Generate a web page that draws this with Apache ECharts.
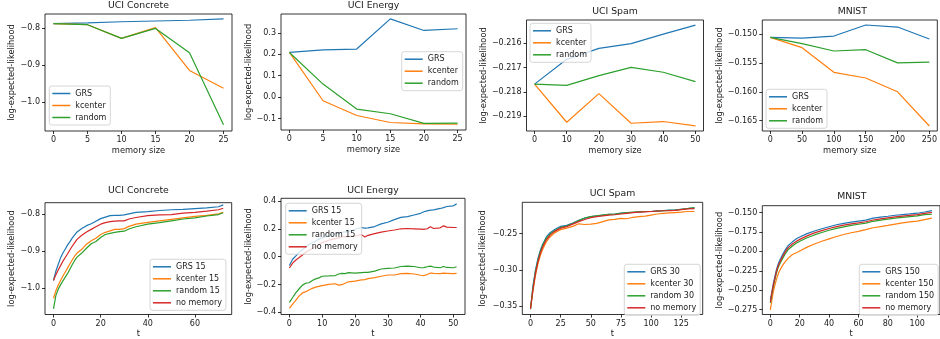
<!DOCTYPE html>
<html><head><meta charset="utf-8">
<script src="https://cdn.jsdelivr.net/npm/echarts@6/dist/echarts.min.js"></script>
<style>html,body{margin:0;padding:0;background:#fff}#c{width:940px;height:339px}</style>
</head><body><div id="c"></div>
<script>
// ---------- DATA ----------
const titles = ['UCI Concrete','UCI Energy','UCI Spam','MNIST','UCI Concrete','UCI Energy','UCI Spam','MNIST'];
const topNames = ['GRS','kcenter','random'];
const botNames5 = ['GRS 15','kcenter 15','random 15','no memory'];
const botNames6 = ['GRS 15','kcenter 15','random 15','no memory'];
const botNames7 = ['GRS 30','kcenter 30','random 30','no memory'];
const botNames8 = ['GRS 150','kcenter 150','random 150','no memory'];

// Top row: memory size sweeps
const memConcrete = [0,5,10,15,20,25];
const concreteGRS     = [-0.788,-0.786,-0.783,-0.781,-0.779,-0.775];
const concreteKcenter = [-0.788,-0.791,-0.828,-0.799,-0.915,-0.963];
const concreteRandom  = [-0.788,-0.791,-0.828,-0.801,-0.867,-1.062];

const memEnergy = [0,5,10,15,20,25];
const energyGRS     = [0.209,0.221,0.225,0.366,0.312,0.320];
const energyKcenter = [0.209,-0.017,-0.086,-0.119,-0.125,-0.127];
const energyRandom  = [0.209,0.061,-0.056,-0.078,-0.123,-0.122];

const memSpam = [0,10,20,30,40,50];
const spamGRS     = [-0.21768,-0.21666,-0.21621,-0.21601,-0.21562,-0.21525];
const spamKcenter = [-0.21768,-0.21925,-0.21807,-0.21929,-0.21922,-0.21940];
const spamRandom  = [-0.21768,-0.21773,-0.21733,-0.21699,-0.21719,-0.21758];

const memMnist = [0,50,100,150,200,250];
const mnistGRS     = [-0.15058,-0.15070,-0.15035,-0.14844,-0.14879,-0.15087];
const mnistKcenter = [-0.15058,-0.15236,-0.15663,-0.15761,-0.16000,-0.16592];
const mnistRandom  = [-0.15058,-0.15167,-0.15294,-0.15271,-0.15500,-0.15485];

// Bottom row: over time t
const tConcrete = [0,1,2,3,4,5,6,7,8,9,10,12,14,16,18,20,22,24,26,28,30,32,35,40,45,50,55,60,65,70,72];
const cGRS  = [-0.980,-0.955,-0.937,-0.919,-0.906,-0.895,-0.884,-0.875,-0.865,-0.857,-0.849,-0.840,-0.832,-0.827,-0.820,-0.813,-0.809,-0.805,-0.804,-0.804,-0.803,-0.800,-0.796,-0.794,-0.791,-0.789,-0.788,-0.786,-0.784,-0.781,-0.776];
const cKc   = [-1.028,-1.008,-0.993,-0.980,-0.968,-0.957,-0.946,-0.935,-0.924,-0.914,-0.906,-0.896,-0.882,-0.873,-0.866,-0.856,-0.850,-0.846,-0.842,-0.842,-0.840,-0.834,-0.828,-0.823,-0.819,-0.815,-0.811,-0.807,-0.804,-0.800,-0.796];
const cRnd  = [-1.057,-1.021,-1.004,-0.992,-0.981,-0.971,-0.961,-0.949,-0.937,-0.926,-0.917,-0.906,-0.893,-0.881,-0.875,-0.864,-0.856,-0.853,-0.850,-0.848,-0.847,-0.841,-0.835,-0.828,-0.824,-0.819,-0.814,-0.811,-0.806,-0.802,-0.797];
const cNo   = [-0.980,-0.965,-0.952,-0.940,-0.928,-0.918,-0.908,-0.897,-0.887,-0.878,-0.869,-0.858,-0.849,-0.842,-0.835,-0.828,-0.824,-0.821,-0.820,-0.819,-0.819,-0.814,-0.810,-0.805,-0.803,-0.802,-0.798,-0.796,-0.793,-0.789,-0.785];

const tEnergy = [0,1,2,3,4,5,6,7,8,9,10,12,14,15,16,17,18,20,22,23,24,26,28,30,32,34,36,38,40,41,42,43,44,46,47,48,50,51];
const eGRS = [-0.064,-0.019,0.005,0.031,0.049,0.071,0.087,0.101,0.112,0.124,0.135,0.150,0.163,0.168,0.175,0.178,0.180,0.195,0.209,0.205,0.207,0.216,0.235,0.247,0.266,0.282,0.287,0.299,0.311,0.322,0.329,0.334,0.336,0.346,0.352,0.360,0.365,0.379];
const eKc  = [-0.372,-0.341,-0.313,-0.282,-0.261,-0.252,-0.240,-0.228,-0.219,-0.214,-0.209,-0.200,-0.195,-0.205,-0.202,-0.191,-0.181,-0.176,-0.167,-0.165,-0.158,-0.151,-0.141,-0.132,-0.132,-0.122,-0.120,-0.125,-0.134,-0.136,-0.129,-0.118,-0.120,-0.122,-0.119,-0.120,-0.122,-0.120];
const eRnd = [-0.329,-0.294,-0.259,-0.231,-0.205,-0.191,-0.188,-0.172,-0.160,-0.153,-0.141,-0.139,-0.136,-0.125,-0.120,-0.122,-0.115,-0.118,-0.115,-0.114,-0.113,-0.104,-0.089,-0.085,-0.082,-0.071,-0.068,-0.071,-0.080,-0.079,-0.073,-0.068,-0.075,-0.080,-0.071,-0.078,-0.080,-0.073];
const eNo  = [-0.082,-0.047,-0.024,-0.007,0.012,0.031,0.045,0.058,0.071,0.085,0.099,0.118,0.129,0.135,0.141,0.143,0.144,0.148,0.158,0.141,0.153,0.165,0.176,0.184,0.191,0.200,0.202,0.200,0.198,0.196,0.200,0.214,0.202,0.207,0.221,0.212,0.209,0.209];

const tSpam = [0,2,4,6,8,10,13,16,20,25,30,35,40,45,50,55,60,65,70,75,80,85,90,95,100,105,110,115,120,125,130,136];
const sGRS = [-0.3536,-0.3227,-0.3014,-0.2855,-0.2741,-0.2650,-0.2550,-0.2491,-0.2445,-0.2400,-0.2386,-0.2355,-0.2318,-0.2286,-0.2264,-0.2255,-0.2245,-0.2236,-0.2232,-0.2218,-0.2209,-0.2209,-0.2200,-0.2195,-0.2195,-0.2186,-0.2182,-0.2177,-0.2173,-0.2164,-0.2155,-0.2145];
const sKc  = [-0.3530,-0.3300,-0.3090,-0.2930,-0.2810,-0.2720,-0.2620,-0.2550,-0.2490,-0.2445,-0.2425,-0.2400,-0.2365,-0.2375,-0.2370,-0.2360,-0.2335,-0.2310,-0.2305,-0.2290,-0.2295,-0.2275,-0.2265,-0.2260,-0.2245,-0.2230,-0.2220,-0.2215,-0.2210,-0.2205,-0.2195,-0.2195];
const sRnd = [-0.3545,-0.3260,-0.3040,-0.2880,-0.2760,-0.2670,-0.2570,-0.2510,-0.2460,-0.2415,-0.2395,-0.2360,-0.2320,-0.2285,-0.2265,-0.2255,-0.2245,-0.2235,-0.2230,-0.2220,-0.2210,-0.2205,-0.2200,-0.2195,-0.2195,-0.2190,-0.2185,-0.2180,-0.2175,-0.2165,-0.2155,-0.2140];
const sNo  = [-0.3540,-0.3280,-0.3060,-0.2900,-0.2780,-0.2690,-0.2590,-0.2525,-0.2470,-0.2425,-0.2405,-0.2370,-0.2335,-0.2305,-0.2280,-0.2265,-0.2255,-0.2245,-0.2240,-0.2230,-0.2220,-0.2210,-0.2205,-0.2200,-0.2195,-0.2190,-0.2185,-0.2183,-0.2180,-0.2170,-0.2160,-0.2155];

const tMnist = [0,1,2,3,4,5,6,8,10,12,15,18,20,25,30,35,40,45,50,55,60,65,70,75,80,85,90,95,100,105,110];
const mGRS = [-0.2627,-0.2521,-0.2415,-0.2330,-0.2246,-0.2182,-0.2131,-0.2055,-0.1983,-0.1928,-0.1877,-0.1835,-0.1814,-0.1771,-0.1737,-0.1708,-0.1682,-0.1657,-0.1640,-0.1623,-0.1610,-0.1597,-0.1572,-0.1559,-0.1547,-0.1534,-0.1525,-0.1517,-0.1508,-0.1492,-0.1475];
const mKc  = [-0.2754,-0.2630,-0.2520,-0.2440,-0.2370,-0.2310,-0.2260,-0.2190,-0.2135,-0.2090,-0.2040,-0.2015,-0.1995,-0.1945,-0.1905,-0.1870,-0.1838,-0.1808,-0.1782,-0.1760,-0.1742,-0.1720,-0.1695,-0.1680,-0.1665,-0.1648,-0.1632,-0.1620,-0.1610,-0.1590,-0.1572];
const mRnd = [-0.2665,-0.2555,-0.2455,-0.2370,-0.2290,-0.2225,-0.2175,-0.2105,-0.2035,-0.1980,-0.1930,-0.1890,-0.1870,-0.1825,-0.1788,-0.1757,-0.1728,-0.1703,-0.1683,-0.1665,-0.1650,-0.1635,-0.1612,-0.1598,-0.1585,-0.1572,-0.1562,-0.1552,-0.1542,-0.1527,-0.1521];
const mNo  = [-0.2650,-0.2540,-0.2435,-0.2350,-0.2270,-0.2205,-0.2155,-0.2080,-0.2010,-0.1955,-0.1905,-0.1865,-0.1845,-0.1800,-0.1762,-0.1732,-0.1705,-0.1680,-0.1662,-0.1645,-0.1632,-0.1618,-0.1595,-0.1580,-0.1567,-0.1555,-0.1545,-0.1535,-0.1525,-0.1510,-0.1497];

// Tick labels
const xTickLabels = [
  ['0','5','10','15','20','25'],
  ['0','5','10','15','20','25'],
  ['0','10','20','30','40','50'],
  ['0','50','100','150','200','250'],
  ['0','20','40','60'],
  ['0','10','20','30','40','50'],
  ['0','25','50','75','100','125'],
  ['0','20','40','60','80','100']
];
const yTickLabels = [
  ['−1.0','−0.9','−0.8'],
  ['−0.1','0.0','0.1','0.2','0.3'],
  ['−0.219','−0.218','−0.217','−0.216'],
  ['−0.165','−0.160','−0.155','−0.150'],
  ['−1.0','−0.9','−0.8'],
  ['−0.4','−0.2','0.0','0.2','0.4'],
  ['−0.35','−0.30','−0.25'],
  ['−0.275','−0.250','−0.225','−0.200','−0.175','−0.150']
];
const xNames = ['memory size','memory size','memory size','memory size','t','t','t','t'];
const yName = 'log-expected-likelihood';

// ---------- LAYOUT ----------
const FONT = 'DejaVu Sans';
const TXT = '#1a1a1a';
const colors = {GRS:'#1f77b4', kcenter:'#ff7f0e', random:'#2ca02c', no:'#d62728'};
const grids = [
  {left:45,   top:14,    width:187,   height:117},
  {left:281,  top:14,    width:185,   height:116},
  {left:526.5,top:20,    width:177,   height:111},
  {left:762.3,top:20,    width:180,   height:111},
  {left:45,   top:202.7, width:186.7, height:113},
  {left:281,  top:198.3, width:184,   height:118.4},
  {left:522.3,top:202.3, width:180.4, height:113.7},
  {left:762.3,top:205.7, width:179,   height:110.3}
];
const xr = [[-1.25,26.25],[-1.25,26.25],[-2.5,52.5],[-12.5,262.5],[-3.6,75.6],[-2.55,53.55],[-6.8,142.8],[-5.5,115.5]];
const yr = [[-1.079,-0.762],[-0.154,0.389],[-0.21961,-0.21504],[-0.16679,-0.14757],[-1.072,-0.770],[-0.416,0.419],[-0.3618,-0.2068],[-0.2814,-0.1411]];
const yNameGap = [29,28.5,39,37.5,29,28.5,35,37.5];
const titleTop = [1,1,7.5,7,186,186.3,189.3,192.5];
const legendPos = [[49.3,86],[401.7,51.7],[530,23.3],[766,89.3],[150,259.3],[285.7,203.3],[624.3,264.3],[859.3,264.3]];

const num = s => parseFloat(s.replace('−','-'));
const zip = (xs, ys) => xs.map((x,i)=>[x, ys[i]]);

const panels = [
  {names: topNames, sets: [[memConcrete,concreteGRS],[memConcrete,concreteKcenter],[memConcrete,concreteRandom]], cols:['GRS','kcenter','random']},
  {names: topNames, sets: [[memEnergy,energyGRS],[memEnergy,energyKcenter],[memEnergy,energyRandom]], cols:['GRS','kcenter','random']},
  {names: topNames, sets: [[memSpam,spamGRS],[memSpam,spamKcenter],[memSpam,spamRandom]], cols:['GRS','kcenter','random']},
  {names: topNames, sets: [[memMnist,mnistGRS],[memMnist,mnistKcenter],[memMnist,mnistRandom]], cols:['GRS','kcenter','random']},
  {names: botNames5, sets: [[tConcrete,cGRS],[tConcrete,cKc],[tConcrete,cRnd],[tConcrete,cNo]], cols:['GRS','kcenter','random','no']},
  {names: botNames6, sets: [[tEnergy,eGRS],[tEnergy,eKc],[tEnergy,eRnd],[tEnergy,eNo]], cols:['GRS','kcenter','random','no']},
  {names: botNames7, sets: [[tSpam,sGRS],[tSpam,sKc],[tSpam,sRnd],[tSpam,sNo]], cols:['GRS','kcenter','random','no']},
  {names: botNames8, sets: [[tMnist,mGRS],[tMnist,mKc],[tMnist,mRnd],[tMnist,mNo]], cols:['GRS','kcenter','random','no']}
];

const option = {animation:false, grid:[], xAxis:[], yAxis:[], series:[], title:[], legend:[]};
panels.forEach((p, i) => {
  const g = grids[i];
  option.grid.push(Object.assign({show:true, borderColor:'#000', borderWidth:0.8, backgroundColor:'transparent', containLabel:false}, g));
  const xv = xTickLabels[i].map(num), yv = yTickLabels[i].map(num);
  const xl = xTickLabels[i], yl = yTickLabels[i];
  option.xAxis.push({
    type:'value', gridIndex:i, min:xr[i][0], max:xr[i][1], position:'bottom',
    axisLine:{show:false, onZero:false}, splitLine:{show:false},
    axisTick:{show:true, inside:false, length:3, lineStyle:{color:'#000', width:0.8}, customValues:xv},
    axisLabel:{customValues:xv, margin:5, fontFamily:FONT, fontSize:8, color:TXT,
      formatter:(v)=>{const k=xv.findIndex(a=>Math.abs(a-v)<1e-9); return k>=0?xl[k]:'';}},
    name:xNames[i], nameLocation:'middle', nameGap:15.5,
    nameTextStyle:{fontFamily:FONT, fontSize:8.3, color:TXT}
  });
  option.yAxis.push({
    type:'value', gridIndex:i, min:yr[i][0], max:yr[i][1], position:'left',
    axisLine:{show:false, onZero:false}, splitLine:{show:false},
    axisTick:{show:true, inside:false, length:3, lineStyle:{color:'#000', width:0.8}, customValues:yv},
    axisLabel:{customValues:yv, margin:5, fontFamily:FONT, fontSize:8, color:TXT,
      formatter:(v)=>{const k=yv.findIndex(a=>Math.abs(a-v)<1e-9); return k>=0?yl[k]:'';}},
    name:yName, nameLocation:'middle', nameRotate:90, nameGap:yNameGap[i],
    nameTextStyle:{fontFamily:FONT, fontSize:8.3, color:TXT}
  });
  option.title.push({
    text:titles[i], left:g.left + g.width/2, top:titleTop[i], textAlign:'center', padding:0,
    textStyle:{fontFamily:FONT, fontSize:9.3, fontWeight:'normal', color:TXT}
  });
  p.sets.forEach((s, j) => {
    option.series.push({
      type:'line', name:p.names[j], xAxisIndex:i, yAxisIndex:i,
      data:zip(s[0], s[1]), symbol:'none', showSymbol:false, clip:true,
      lineStyle:{width:1.2, color:colors[p.cols[j]]}, itemStyle:{color:colors[p.cols[j]]},
      emphasis:{disabled:true}, z:2
    });
  });
  option.legend.push({
    left:legendPos[i][0], top:legendPos[i][1], orient:'vertical', data:p.names.slice(),
    icon:'rect', itemWidth:18, itemHeight:1.5, itemGap:0, selectedMode:false,
    padding:[1.5,4,1.5,3], backgroundColor:'rgba(255,255,255,0.8)', borderColor:'#cccccc',
    borderWidth:0.8, borderRadius:2.5, z:10,
    textStyle:{fontFamily:FONT, fontSize:8, lineHeight:12, color:TXT}
  });
});

const chart = echarts.init(document.getElementById('c'), null, {renderer:'canvas'});
chart.setOption(option);
</script>
</body></html>
